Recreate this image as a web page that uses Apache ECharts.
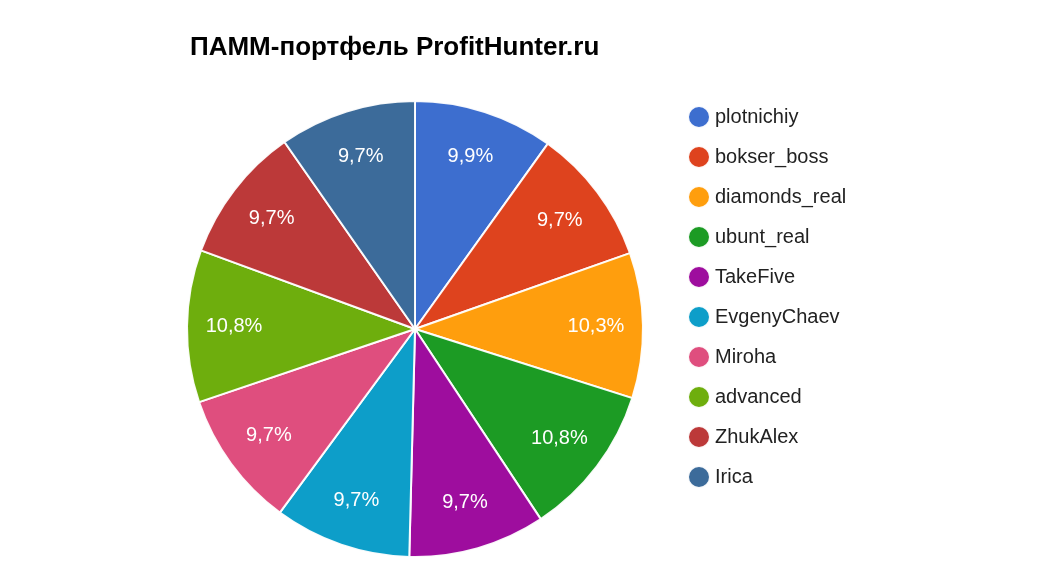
<!DOCTYPE html>
<html><head><meta charset="utf-8">
<script src="https://cdn.jsdelivr.net/npm/echarts@6/dist/echarts.min.js"></script>
<style>html,body{margin:0;padding:0;background:#fff}#c{width:1038px;height:580px}</style>
</head><body><div id="c"></div>
<script>
const names = ['plotnichiy','bokser_boss','diamonds_real','ubunt_real','TakeFive','EvgenyChaev','Miroha','advanced','ZhukAlex','Irica'];
const values = [9.9,9.7,10.3,10.8,9.7,9.7,9.7,10.8,9.7,9.7];
const colors = ['#3366cc','#dc3912','#ff9900','#109618','#990099','#0099c6','#dd4477','#66aa00','#b82e2e','#316395'];
const data = names.map((n,i)=>({name:n,value:values[i]}));
const chart = echarts.init(document.getElementById('c'));
chart.setOption({
  color: colors,
  title:{text:'ПАММ-портфель ProfitHunter.ru',left:185,top:30,textStyle:{fontFamily:'Liberation Sans, Arial',fontSize:26,fontWeight:'bold',color:'#000'}},
  legend:{orient:'vertical',left:682,top:100,icon:'circle',itemWidth:22,itemHeight:22,itemGap:16,
    textStyle:{fontFamily:'Liberation Sans, Arial',fontSize:20,color:'#222'},data:names},
  series:[
    {type:'pie',center:[415,329],radius:[0,228],startAngle:90,clockwise:true,data:data,
     itemStyle:{borderColor:'#fff',borderWidth:2,opacity:0.95},label:{show:false},labelLine:{show:false},silent:true},
    {type:'pie',center:[415,329],radius:[128,228],startAngle:90,clockwise:true,data:data,silent:true,
     legendHoverLink:false,itemStyle:{color:'rgba(0,0,0,0)'},labelLine:{show:false},
     label:{show:true,position:'inside',color:'#fff',fontFamily:'Liberation Sans, Arial',fontSize:20,
       formatter:p=>p.value.toFixed(1).replace('.',',')+'%'}}
  ]
});
</script></body></html>
